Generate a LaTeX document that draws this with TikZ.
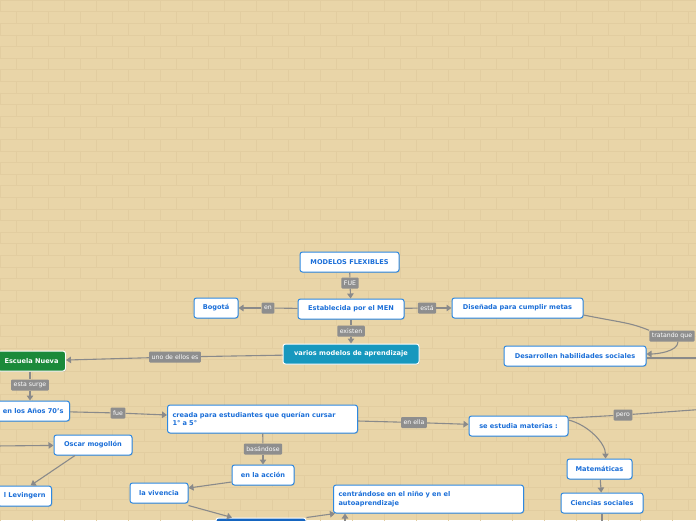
\documentclass[tikz,border=0pt]{standalone}
\usepackage{fontspec}
\setmainfont{DejaVu Sans}
\usetikzlibrary{arrows.meta,shadows}
\definecolor{bg}{HTML}{E9D5A8}
\definecolor{brick}{HTML}{E2CDA0}
\definecolor{nodeblue}{HTML}{2E88E0}
\definecolor{txtblue}{HTML}{1A6ED8}
\definecolor{lblgray}{HTML}{8E8E8E}
\definecolor{linegray}{HTML}{8A8A8A}
\definecolor{teal}{HTML}{1798BE}
\definecolor{darkgreen}{HTML}{1B8A3A}
\definecolor{deepblue}{HTML}{1565C0}
\tikzset{
  box/.style={draw=nodeblue, line width=1pt, fill=white, rounded corners=2.5pt,
    text=txtblue, font=\fontsize{6.6}{8.2}\selectfont\bfseries, inner xsep=6pt, inner ysep=0pt,
    minimum height=20pt, align=center,
    drop shadow={opacity=0.25, shadow xshift=0.8pt, shadow yshift=-0.8pt}},
  filledbox/.style={box, draw=white, text=white},
  lbl/.style={fill=lblgray, text=white, font=\fontsize{6.2}{7}\selectfont, inner xsep=2.5pt,
    inner ysep=0pt, minimum height=11pt, rounded corners=1pt},
  link/.style={draw=linegray, line width=1.1pt},
  arr/.style={link, -{Triangle[length=5pt,width=6.5pt]}},
  bricks/.style={draw=brick, line width=0.4pt}
}
\begin{document}
\begin{tikzpicture}[x=1pt,y=-1pt]
\useasboundingbox (0,0) rectangle (696,520);
\clip (0,0) rectangle (696,520);
\fill[bg] (0,0) rectangle (696,520);
\foreach \r in {0,...,45}{
  \pgfmathsetmacro\yy{\r*11.6}
  \pgfmathsetmacro\off{mod(\r,2)*16}
  \draw[bricks] (0,\yy) -- (696,\yy);
  \foreach \c in {-1,...,22}{ \draw[bricks] ({\c*32+\off},\yy) -- ++(0,11.6); }
}

% nodes
\node[box, minimum width=99pt] (mf) at (349.5,262) {MODELOS FLEXIBLES};
\node[box, minimum width=106pt] (est) at (351,309) {Establecida por el MEN};
\node[box, minimum width=44pt] (bog) at (216,308) {Bogotá};
\node[box, minimum width=131pt] (dis) at (517.5,308) {Diseñada para cumplir metas};
\node[filledbox, fill=teal, minimum width=136pt] (var) at (351,354) {varios modelos de aprendizaje};
\node[filledbox, fill=darkgreen, anchor=east, inner xsep=7pt] (esc) at (66,361) {Escuela Nueva};
\node[box, minimum width=142pt] (des) at (575,356) {Desarrollen habilidades sociales};
\node[box, anchor=east, inner xsep=6pt] (anos) at (70,411) {en los Años 70's};
\node[box, text width=180pt, inner xsep=5pt, minimum height=28pt, align=left] (cre) at (262.5,419) {creada para estudiantes que querían cursar\\1° a 5°};
\node[box, minimum width=99pt] (se) at (518.5,426) {se estudia materias :};
\node[box, minimum width=78pt] (osc) at (93,445) {Oscar mogollón};
\node[box, anchor=east, inner xsep=6pt] (lev) at (52,496) {l Levingern};
\node[box, minimum width=62pt] (acc) at (263,475) {en la acción};
\node[box, minimum width=58pt] (viv) at (159,493) {la vivencia};
\node[box, text width=180pt, inner xsep=5pt, minimum height=28pt, align=left] (cen) at (428.5,499) {centrándose en el niño y en el\\autoaprendizaje};
\node[box, minimum width=65pt] (mat) at (599.5,469) {Matemáticas};
\node[box, minimum width=82pt] (cie) at (602,503) {Ciencias sociales};
\node[filledbox, fill=deepblue, minimum width=90pt, minimum height=24pt] (dark) at (261,530) {};

% labels
\node[lbl] (l-fue) at (350,283) {FUE};
\node[lbl] (l-en) at (268,308) {en};
\node[lbl] (l-esta) at (427,308) {está};
\node[lbl] (l-exi) at (351,331) {existen};
\node[lbl] (l-uno) at (175,357) {uno de ellos es};
\node[lbl] (l-sur) at (30,385) {esta surge};
\node[lbl] (l-fue2) at (118,413) {fue};
\node[lbl] (l-bas) at (263,449) {basándose};
\node[lbl] (l-ella) at (414,422.5) {en ella};
\node[lbl] (l-pero) at (623,415) {pero};
\node[lbl] (l-tra) at (672,336) {tratando que};

% free ends
\coordinate (r1) at (700,358);
\coordinate (r2) at (700,409.5);
\coordinate (lf) at (-5,446);
\coordinate (b1) at (602,525);
\coordinate (b2) at (345,530);

% connectors
\draw[link] (mf) -- (l-fue);
\draw[arr] (l-fue) -- (est);
\draw[link] (est) -- (l-en);
\draw[arr] (l-en) -- (bog);
\draw[link] (est) -- (l-esta);
\draw[arr] (l-esta) -- (dis);
\draw[link] (est) -- (l-exi);
\draw[arr] (l-exi) -- (var);
\draw[link] ([yshift=-7pt]dis.east) .. controls +(40,8) and +(-20,-8) .. (l-tra.north west);
\draw[arr] ([xshift=6pt]l-tra.south) .. controls +(0,10) and +(10,0) .. ([yshift=2pt]des.east);
\draw[link] (r1) -- ([yshift=-2pt]des.east);
\draw[link] (var) -- (l-uno);
\draw[arr] (l-uno) -- (esc);
\draw[link] (l-sur |- esc.south) -- (l-sur);
\draw[arr] (l-sur) -- (l-sur |- anos.north);
\draw[link] (anos) -- (l-fue2);
\draw[arr] (l-fue2) -- ([yshift=4pt]cre.west);
\draw[link] ([yshift=-2pt]cre.east) -- (l-ella);
\draw[arr] (l-ella) -- (se);
\draw[link] ([yshift=8pt]se.east) -- (l-pero);
\draw[link] (l-pero) -- (r2);
\draw[arr] ([yshift=6pt]se.east) .. controls +(20,5) and +(0,-15) .. ([xshift=6pt]mat.north);
\draw[arr] (mat) -- (cie);
\draw[link] (cie) -- (b1);
\draw[arr] (lf) -- (osc);
\draw[arr] ([xshift=-18pt]osc.south) -- ([xshift=6pt]lev.north);
\draw[link] (cre) -- (l-bas);
\draw[arr] (l-bas) -- (acc);
\draw[arr] ([yshift=-7pt]acc.west) -- ([yshift=5pt]viv.east);
\draw[arr] ([yshift=-2pt]viv.south east) -- ([xshift=-29pt]dark.north);
\draw[arr] (dark.north east) -- ([xshift=2pt]cen.south west);
\draw[arr] (b2) -- (b2 |- cen.south);
\end{tikzpicture}
\end{document}
